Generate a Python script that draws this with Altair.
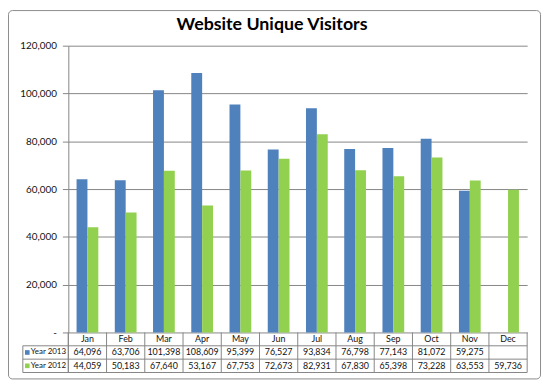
import altair as alt
import pandas as pd

months = ["Jan", "Feb", "Mar", "Apr", "May", "Jun", "Jul", "Aug", "Sep", "Oct", "Nov", "Dec"]
series_names = ["Year 2013", "Year 2012"]
visitors_2013 = [64096, 63706, 101398, 108609, 95399, 76527, 93834, 76798, 77143, 81072, 59275, None]
visitors_2012 = [44059, 50183, 67640, 53167, 67753, 72673, 82931, 67830, 65398, 73228, 63553, 59736]
colors = ["#4F81BD", "#92D050"]
y_ticks = [0, 20000, 40000, 60000, 80000, 100000, 120000]
title_text = "Website Unique Visitors"

rows = []
for s, vals in zip(series_names, [visitors_2013, visitors_2012]):
    for m, v in zip(months, vals):
        if v is not None:
            rows.append({"month": m, "series": s, "value": v})
df = pd.DataFrame(rows)
df_months = pd.DataFrame({"month": months})
df_series = pd.DataFrame({"series": series_names, "color": colors})
one = pd.DataFrame({"t": [title_text]})

W, H = 464, 290
RH = 13.5
TOP = 36
GRID = "#868686"
FONT = "Lato"
BOTTOM = H + 3 * RH + 6.5

xenc = alt.X("month:N", sort=months, scale=alt.Scale(domain=months, paddingInner=0, paddingOuter=0), axis=None)

bars = alt.Chart(df).mark_bar().encode(
    x=xenc,
    xOffset=alt.XOffset("series:N", sort=series_names,
                        scale=alt.Scale(domain=series_names, paddingInner=0, paddingOuter=0.758)),
    y=alt.Y("value:Q", scale=alt.Scale(domain=[0, 120000], nice=False),
            axis=alt.Axis(values=y_ticks, format=",", title=None,
                          labelExpr="datum.value == 0 ? '-' : format(datum.value, ',')",
                          grid=True, gridColor=GRID, gridWidth=1,
                          domainColor=GRID, tickColor=GRID, tickSize=6,
                          labelPadding=6, labelFont=FONT, labelFontSize=10,
                          labelColor="#111111")),
    color=alt.Color("series:N", scale=alt.Scale(domain=series_names, range=colors), legend=None),
)

# table grid
vlines = alt.Chart(df_months).mark_rule(color=GRID, strokeWidth=1).encode(
    x=alt.X("month:N", sort=months, bandPosition=0, axis=None),
    y=alt.value(H), y2=alt.value(H + 3 * RH),
)
base1 = alt.Chart(one)
right_line = base1.mark_rule(color=GRID).encode(x=alt.value(W), y=alt.value(H), y2=alt.value(H + 3 * RH))
left_line = base1.mark_rule(color=GRID).encode(x=alt.value(-46), y=alt.value(H + RH), y2=alt.value(H + 3 * RH))
h_lines = [
    base1.mark_rule(color=GRID).encode(x=alt.value(-46), x2=alt.value(W), y=alt.value(H + k * RH))
    for k in (1, 2, 3)
]
axis_ext = base1.mark_rule(color=GRID).encode(x=alt.value(0), y=alt.value(H), y2=alt.value(H + 3 * RH))

month_text = alt.Chart(df_months).mark_text(font=FONT, fontSize=9, color="#111111", baseline="middle").encode(
    x=alt.X("month:N", sort=months, axis=None),
    y=alt.value(H + RH / 2),
    text="month:N",
)

value_layers = []
key_layers = []
for i, s in enumerate(series_names):
    yc = H + RH * (i + 1.5)
    value_layers.append(
        alt.Chart(df).transform_filter(alt.datum.series == s)
        .mark_text(font=FONT, fontSize=9, color="#111111", baseline="middle")
        .encode(x=alt.X("month:N", sort=months, axis=None), y=alt.value(yc),
                text=alt.Text("value:Q", format=","))
    )
    key_layers.append(
        alt.Chart(df_series).transform_filter(alt.datum.series == s)
        .mark_square(size=22, opacity=1)
        .encode(x=alt.value(-41.5), y=alt.value(yc), fill=alt.value(colors[i]))
    )
    key_layers.append(
        alt.Chart(df_series).transform_filter(alt.datum.series == s)
        .mark_text(font=FONT, fontSize=8, color="#111111", baseline="middle", align="left")
        .encode(x=alt.value(-38), y=alt.value(yc), text="series:N")
    )

title = base1.mark_text(font=FONT, fontSize=18, fontWeight="bold", color="#000000",
                        align="center", baseline="alphabetic").encode(
    x=alt.value(206), y=alt.value(-16), text="t:N")

border = base1.mark_rect(fill=None, stroke="#8c8c8c", strokeWidth=1, cornerRadius=4).encode(
    x=alt.value(-60.5), x2=alt.value(477.5), y=alt.value(-TOP + 0.5), y2=alt.value(BOTTOM))

chart = alt.layer(
    border, bars, vlines, right_line, left_line, *h_lines, axis_ext,
    month_text, *value_layers, *key_layers, title
).properties(
    width=W, height=H,
    autosize=alt.AutoSizeParams(type="none"),
    padding={"left": 61, "top": TOP, "right": 15, "bottom": int(BOTTOM - H + 1.5)},
).configure_view(stroke=None)

chart.save("out.html", embed_options={"renderer": "svg", "actions": False})
